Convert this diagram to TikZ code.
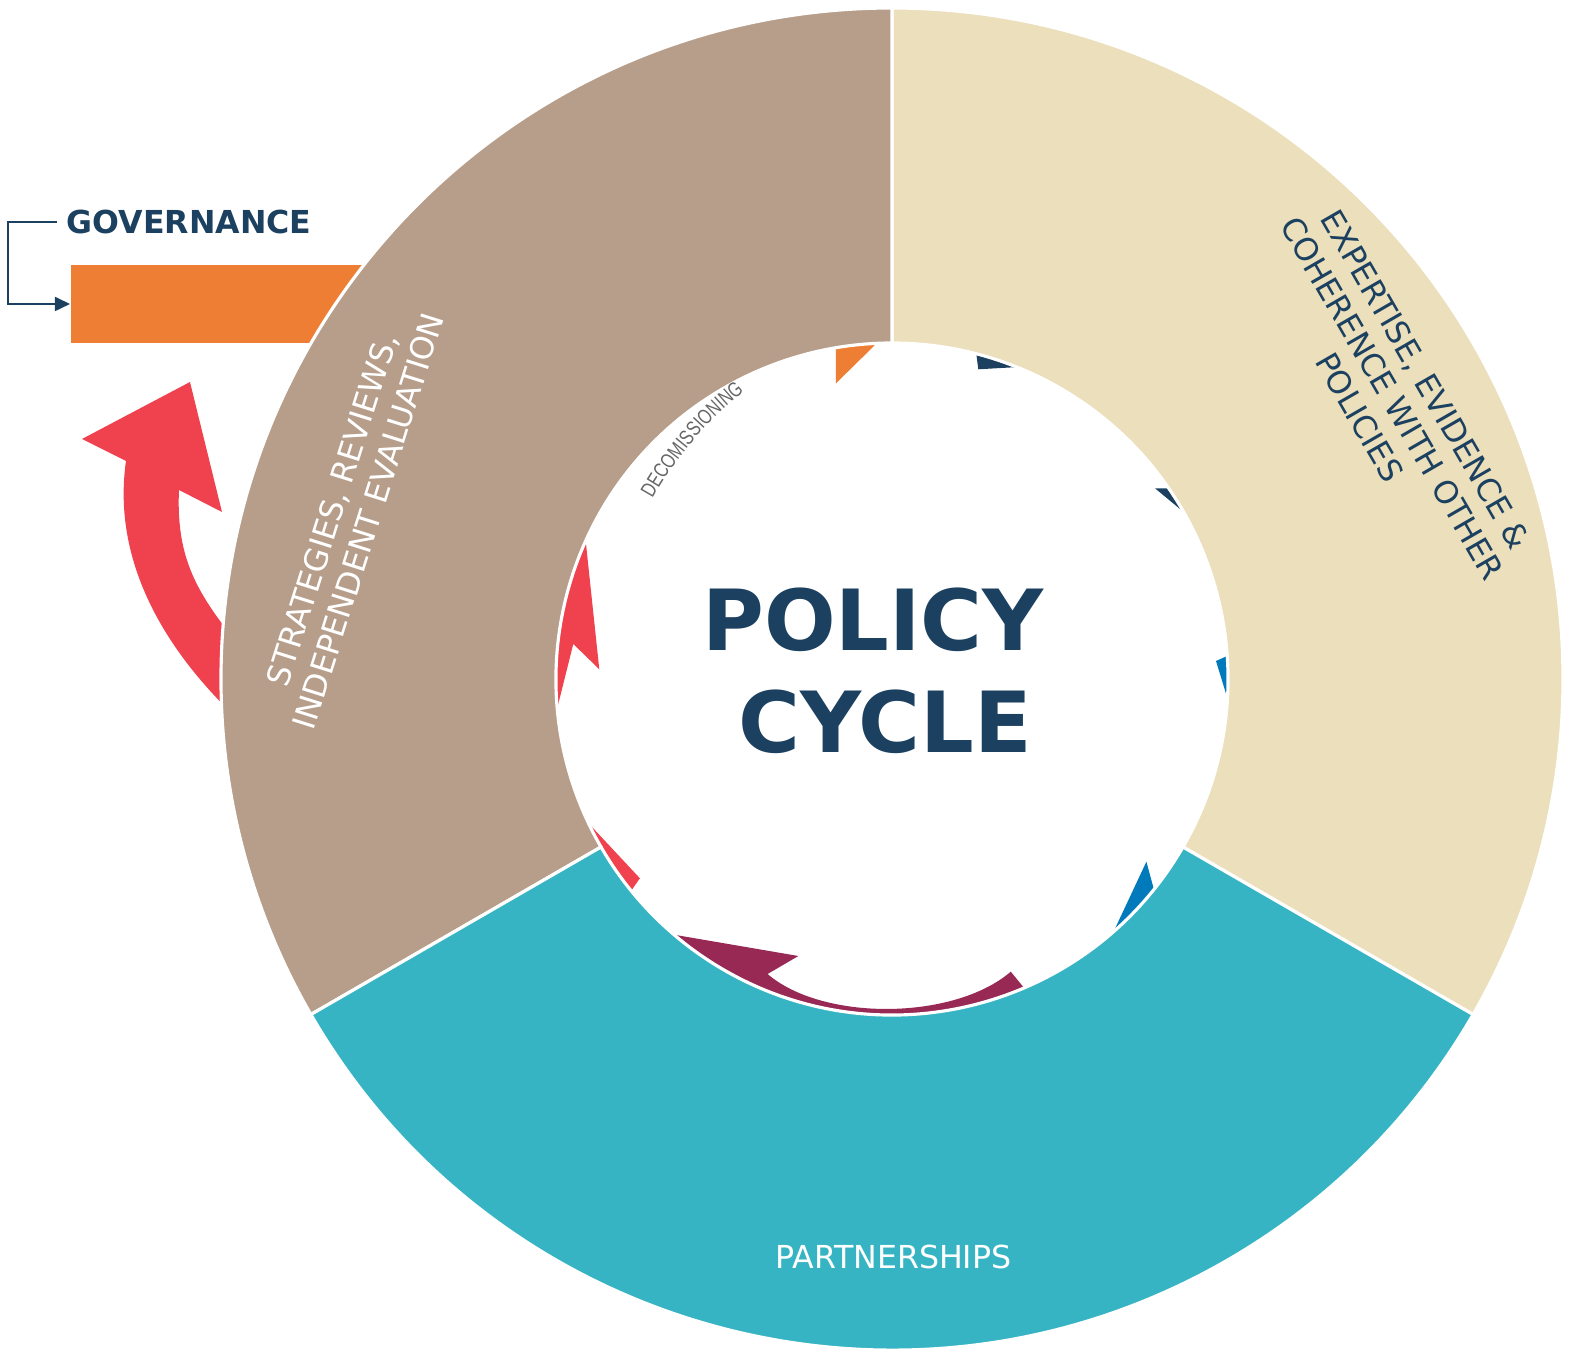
\documentclass[tikz,border=0pt]{standalone}
\usepackage{fontspec}
\setmainfont{DejaVu Sans}
\newfontfamily\decofont[FakeStretch=0.76]{Liberation Sans}
\usetikzlibrary{arrows.meta,decorations.text}
\definecolor{navy}{HTML}{1B4060}
\definecolor{ringbrown}{HTML}{B69E8B}
\definecolor{ringbeige}{HTML}{EBDFBC}
\definecolor{ringteal}{HTML}{37B4C4}
\definecolor{govorange}{HTML}{EE7E33}
\definecolor{cyclered}{HTML}{F0414E}
\definecolor{cycleblue}{HTML}{007ABA}
\definecolor{crimson}{HTML}{982854}
\definecolor{decogray}{HTML}{666666}
\begin{document}
\begin{tikzpicture}[
    seg/.style={draw=white, line width=0.9pt},
    ringtext/.style={font=\fontsize{9}{10.8}\selectfont, align=center, inner sep=0pt}
  ]
  \useasboundingbox (-8.92,-6.75) rectangle (6.81,6.79);

  \pgfmathsetmacro{\Rout}{6.71}
  \pgfmathsetmacro{\Rin}{3.36}

  \node[fill=govorange, minimum width=3.7cm, minimum height=0.78cm, inner sep=0pt, anchor=west] (govbar) at (-8.22,3.75) {};
  \node[font=\bfseries\fontsize{9}{10}\selectfont, text=navy, inner sep=2.5pt] (gov) at (-7.03,4.57) {GOVERNANCE};
  \draw[navy, line width=0.5pt, -{Triangle[length=0.15cm,width=0.14cm]}] (gov.west) -- ++(-0.49,0) |- (govbar.west);

  \fill[cyclered] (-7.66,2.18) -- (-8.10,2.40) -- (-7.02,2.97) -- (-6.70,1.67) -- (-7.13,1.89)
    .. controls (-7.16,1.2) and (-6.95,0.85) .. (-6.5,0.3) -- (-6.5,-0.44)
    .. controls (-7.3,0.3) and (-7.8,1.2) .. (-7.66,2.18) -- cycle;

  \fill[govorange] (-0.56,2.957) -- (-0.56,3.41) -- (-0.06,3.448) -- cycle;
  \fill[navy] (0.863,3.097) -- (0.828,3.372) -- (1.5,3.133) -- cycle;
  \fill[navy] (2.63,1.907) -- (2.9,1.907) -- (3.109,1.51) -- cycle;
  \fill[cycleblue] (3.24,0.18) -- (3.464,0.281) -- (3.424,-0.42) -- cycle;
  \fill[cycleblue] (2.544,-1.827) -- (2.656,-2.24) -- (2.124,-2.723) -- cycle;
  \fill[crimson] (-2.35,-2.528) -- (-0.936,-2.77) -- (-1.244,-2.95)
    .. controls (-0.7,-3.42) and (0.61,-3.42) .. (1.188,-2.927)
    -- (1.401,-3.187) arc[start angle=-66.3, end angle=-132.9, radius=3.47] -- cycle;
  \fill[cyclered] (-3.224,-1.24) -- (-2.521,-1.993) -- (-2.682,-2.223) -- cycle;
  \fill[cyclered] (-3.085,1.588) -- (-2.927,0.097) -- (-3.187,0.35) -- (-3.417,-0.568) arc[start angle=189.4, end angle=152.8, radius=3.46] -- cycle;

  \path[seg, fill=ringbeige] (90:\Rout) arc[start angle=90, end angle=-30, radius=\Rout] -- (-30:\Rin) arc[start angle=-30, end angle=90, radius=\Rin] -- cycle;
  \path[seg, fill=ringbrown] (90:\Rout) arc[start angle=90, end angle=210, radius=\Rout] -- (210:\Rin) arc[start angle=210, end angle=90, radius=\Rin] -- cycle;
  \path[seg, fill=ringteal] (210:\Rout) arc[start angle=210, end angle=330, radius=\Rout] -- (330:\Rin) arc[start angle=330, end angle=210, radius=\Rin] -- cycle;

  \node[ringtext, text=navy, rotate=-60] (expertise) at (29.3:5.74) {EXPERTISE, EVIDENCE \&\\COHERENCE WITH OTHER\\POLICIES};
  \node[ringtext, text=white, rotate=72.5] (strategies) at (163.2:5.66) {STRATEGIES, REVIEWS,\\INDEPENDENT EVALUATION};
  \node[ringtext, text=white] (partners) at (0.015,-5.78) {PARTNERSHIPS};

  \node[font=\bfseries\fontsize{24}{29}\selectfont, text=navy, align=center] (title) at (-0.19,0.085) {POLICY\\\hspace*{0.25cm}CYCLE};

  \path[decorate, decoration={text along path, text align=center,
      text={|\decofont\fontsize{6}{7}\selectfont\color{decogray}|DECOMISSIONING}}]
    ([shift={(0.78,0.02)}]156:3.64) arc[start angle=156, end angle=123, radius=3.64];
\end{tikzpicture}
\end{document}
